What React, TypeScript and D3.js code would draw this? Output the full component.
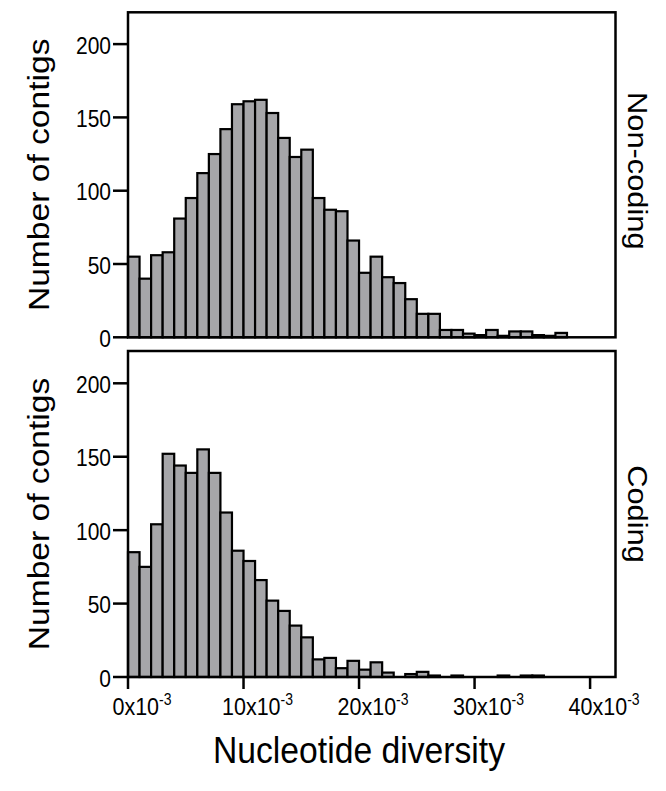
import React from "react";
import * as d3 from "d3";

// Histogram bins: each bin is 1x10^-3 wide, starting at 0
const binEdges = d3.range(0, 39); // 0..38 (x10^-3)
const nonCodingCounts = [55, 40, 56, 58, 81, 95, 112, 125, 142, 159, 161, 162, 153, 136, 123, 128, 95, 87, 86, 66, 44, 55, 41, 37, 26, 16, 16, 5, 5, 2.5, 1.5, 5, 1, 4, 4, 1.5, 1, 3];
const codingCounts = [85, 75, 104, 152, 144, 139, 155, 139, 112, 86, 79, 66, 52, 45, 35, 27, 12, 13, 6, 11, 5, 10, 3, 0, 2, 3.5, 1, 0, 1, 0, 0, 0, 1, 0, 1, 1];
const xTicks = [0, 10, 20, 30, 40];
const yTicks = [0, 50, 100, 150, 200];
const panelLabels = ["Non-coding", "Coding"];

const W = 666;
const H = 791;
const FONT = "'Liberation Sans', Arial, Helvetica, sans-serif";
const BAR_FILL = "#a6a6a9";
const STRETCH = 1.15;

const x = d3.scaleLinear().domain([0, 42.2]).range([128, 615.5]);

const panels = [
  { counts: nonCodingCounts, label: panelLabels[0], y: d3.scaleLinear().domain([0, 221.7]).range([337.3, 12.3]), showX: false, labelShift: -4 },
  { counts: codingCounts, label: panelLabels[1], y: d3.scaleLinear().domain([0, 222]).range([677, 351]), showX: true, labelShift: 0 },
];

function Panel({ counts, label, y, showX, labelShift }: any) {
  const [y0, y1] = y.range();
  const [x0, x1] = x.range();
  const cy = (y0 + y1) / 2;
  return (
    <g>
      {counts.map((c: number, i: number) =>
        c > 0 ? (
          <rect
            key={i}
            x={x(binEdges[i])}
            y={y(c)}
            width={x(binEdges[i + 1]) - x(binEdges[i])}
            height={y(0) - y(c)}
            fill={BAR_FILL}
            stroke="#000"
            strokeWidth={2.2}
          />
        ) : null
      )}
      <rect x={x0} y={y1} width={x1 - x0} height={y0 - y1} fill="none" stroke="#000" strokeWidth={2.5} />
      {yTicks.map((t) => (
        <g key={t}>
          <line x1={x0 - 15} x2={x0} y1={y(t)} y2={y(t)} stroke="#000" strokeWidth={2.5} />
          <text
            transform={`translate(${x0 - 17},${y(t) + 9.5}) scale(1,${STRETCH})`}
            textAnchor="end"
            fontSize={21}
            fontFamily={FONT}
            fill="#000"
          >
            {t}
          </text>
        </g>
      ))}
      <text
        transform={`translate(49,${cy}) scale(1,1.12) rotate(-90)`}
        textAnchor="middle"
        fontSize={30}
        fontFamily={FONT}
        fill="#000"
      >
        Number of contigs
      </text>
      <text
        transform={`translate(628,${cy + labelShift}) scale(1,1.1) rotate(90)`}
        textAnchor="middle"
        fontSize={28}
        fontFamily={FONT}
        fill="#000"
      >
        {label}
      </text>
      {showX &&
        xTicks.map((t) => (
          <g key={t}>
            <line x1={x(t)} x2={x(t)} y1={y0} y2={y0 + 12} stroke="#000" strokeWidth={2.5} />
            <text
              transform={`translate(${x(t) + 14},${y0 + 38}) scale(1,${STRETCH})`}
              textAnchor="middle"
              fontSize={21.5}
              fontFamily={FONT}
              fill="#000"
            >
              {`${t}x10`}
              <tspan fontSize={14} dy="-9">-3</tspan>
            </text>
          </g>
        ))}
    </g>
  );
}

export default function App() {
  return (
    <svg width={W} height={H} style={{ display: "block", margin: "-8px" }}>
      <rect width={W} height={H} fill="#fff" />
      {panels.map((p, i) => (
        <Panel key={i} {...p} />
      ))}
      <text
        transform={`translate(359,763) scale(1,1.1)`}
        textAnchor="middle"
        fontSize={33.7}
        fontFamily={FONT}
        fill="#000"
      >
        Nucleotide diversity
      </text>
    </svg>
  );
}
